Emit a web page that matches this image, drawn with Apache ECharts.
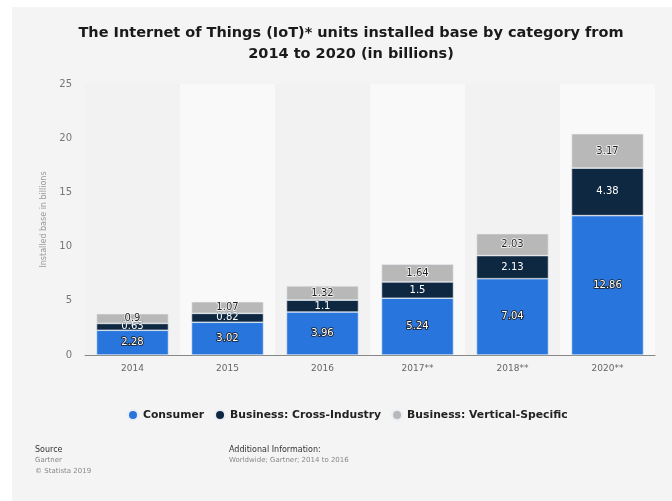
<!DOCTYPE html>
<html>
<head>
<meta charset="utf-8">
<script src="https://cdn.jsdelivr.net/npm/echarts@6/dist/echarts.min.js"></script>
<style>
  html, body { margin: 0; padding: 0; background: #ffffff; }
  #chart { width: 672px; height: 501px; }
</style>
</head>
<body>
<div id="chart"></div>
<script>
// IoT installed base by category, billions of units
const years = ['2014', '2015', '2016', '2017**', '2018**', '2020**'];
const consumer = [2.28, 3.02, 3.96, 5.24, 7.04, 12.86];
const crossIndustry = [0.63, 0.82, 1.1, 1.5, 2.13, 4.38];
const verticalSpecific = [0.9, 1.07, 1.32, 1.64, 2.03, 3.17];
const yTicks = [0, 5, 10, 15, 20, 25];

const chart = echarts.init(document.getElementById('chart'));
const font = 'DejaVu Sans';

function segment(name, data, color, label) {
  return {
    name: name,
    type: 'bar',
    stack: 'total',
    data: data,
    barWidth: 72,
    itemStyle: { color: color, borderColor: '#e8eef5', borderWidth: 0.6 },
    label: Object.assign({
      show: true,
      position: 'inside',
      fontFamily: font,
      fontSize: 10
    }, label)
  };
}

chart.setOption({
  animation: false,
  backgroundColor: '#ffffff',
  graphic: [
    { type: 'rect', z: -10, shape: { x: 12, y: 7, width: 672, height: 501 }, style: { fill: '#f4f4f4' } },
    { type: 'text', left: 35, top: 446, style: { text: 'Source', fontFamily: font, fontSize: 8, fill: '#333' } },
    { type: 'text', left: 35, top: 457, style: { text: 'Gartner', fontFamily: font, fontSize: 7, fill: '#888' } },
    { type: 'text', left: 35, top: 468, style: { text: '© Statista 2019', fontFamily: font, fontSize: 7, fill: '#888' } },
    { type: 'text', left: 229, top: 446, style: { text: 'Additional Information:', fontFamily: font, fontSize: 8, fill: '#333' } },
    { type: 'text', left: 229, top: 457, style: { text: 'Worldwide; Gartner; 2014 to 2016', fontFamily: font, fontSize: 7, fill: '#888' } }
  ],
  title: {
    text: 'The Internet of Things (IoT)* units installed base by category from\n2014 to 2020 (in billions)',
    left: 346,
    textAlign: 'center',
    top: 18,
    textStyle: { fontFamily: font, fontSize: 14.5, fontWeight: 'bold', color: '#1a1a1a', lineHeight: 21 }
  },
  legend: {
    top: 404,
    left: 122,
    icon: 'circle',
    itemWidth: 10,
    itemHeight: 10,
    itemGap: 10,
    textStyle: { fontFamily: font, fontSize: 10.8, fontWeight: 'bold', color: '#222' },
    data: ['Consumer', 'Business: Cross-Industry', 'Business: Vertical-Specific']
  },
  grid: { left: 85, right: 17, top: 84, bottom: 146 },
  xAxis: {
    type: 'category',
    data: years,
    axisLine: { lineStyle: { color: '#888', width: 1 } },
    axisTick: { show: false },
    axisLabel: { fontFamily: font, fontSize: 9, color: '#666', margin: 9 },
    splitArea: { show: true, areaStyle: { color: ['#f2f2f2', '#f9f9f9'] } }
  },
  yAxis: {
    type: 'value',
    min: yTicks[0],
    max: yTicks[yTicks.length - 1],
    interval: 5,
    name: 'Installed base in billions',
    nameLocation: 'middle',
    nameGap: 32,
    nameTextStyle: { fontFamily: font, fontSize: 8, color: '#999' },
    axisLabel: { fontFamily: font, fontSize: 10, color: '#777', margin: 13 },
    axisLine: { show: false },
    axisTick: { show: false },
    splitLine: { lineStyle: { color: '#e4e4e4', width: 1 } }
  },
  series: [
    segment('Consumer', consumer, '#2876dd',
      { color: '#ffffff', textBorderColor: '#1b1b1b', textBorderWidth: 1.6 }),
    segment('Business: Cross-Industry', crossIndustry, '#0f2841',
      { color: '#ffffff', textBorderColor: '#0f2841', textBorderWidth: 0.5 }),
    segment('Business: Vertical-Specific', verticalSpecific, '#b8b8b8',
      { color: '#1e1e1e', textBorderColor: '#ffffff', textBorderWidth: 1.4 })
  ]
});
</script>
</body>
</html>
